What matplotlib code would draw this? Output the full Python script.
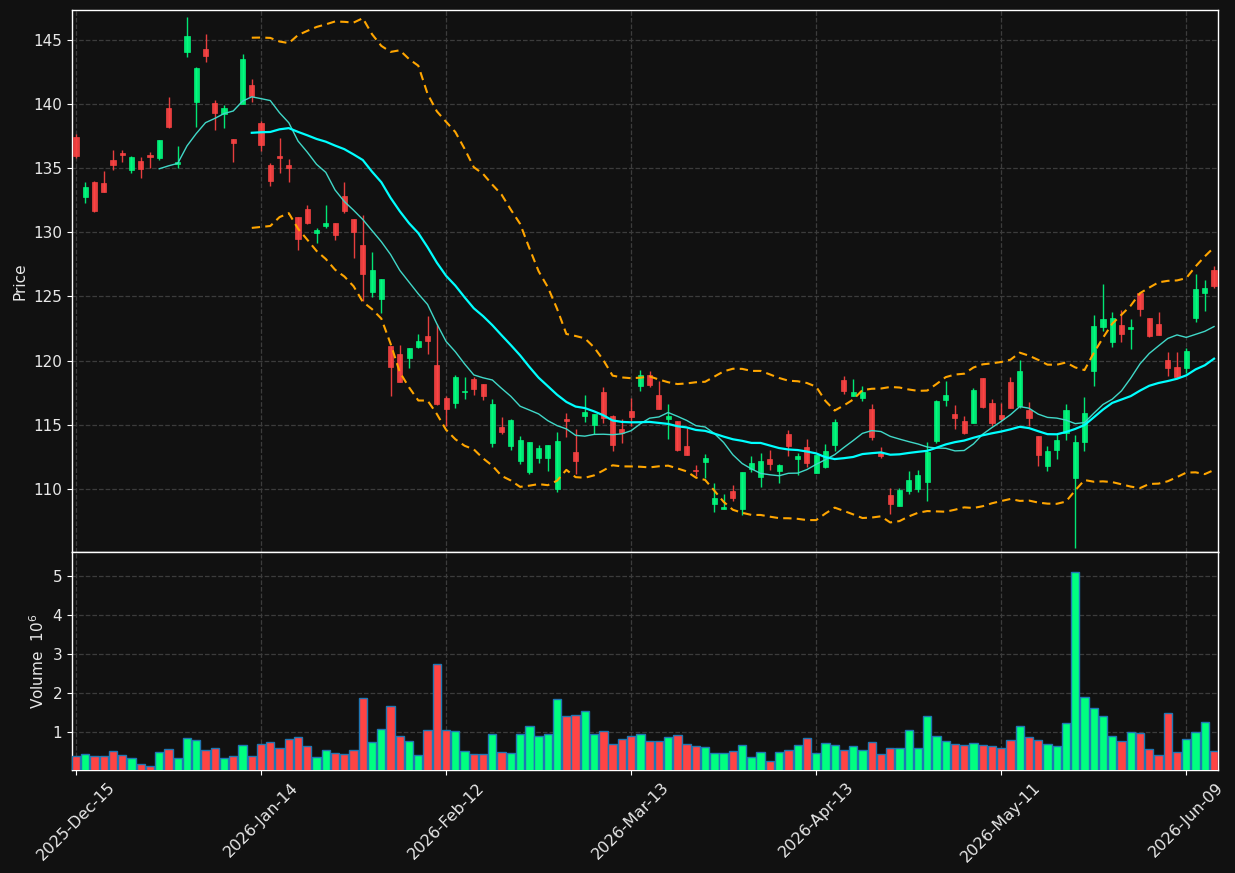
import numpy as np
import pandas as pd
import matplotlib
matplotlib.use("Agg")
import matplotlib.pyplot as plt

# ---------------- data ----------------
holidays = ["2025-12-25", "2026-01-01", "2026-01-19", "2026-02-16", "2026-04-03", "2026-05-25"]
dates = pd.bdate_range("2025-12-15", periods=124, freq="C", holidays=holidays)

opens = [137.41, 132.77, 133.91, 133.83, 135.62, 136.17, 134.87, 135.54, 136.01, 135.80,
         139.66, 135.28, 144.04, 140.16, 144.25, 140.05, 139.17, 137.25, 140.00, 141.45,
         138.47, 135.27, 135.90, 135.27, 131.22, 131.77, 129.92, 130.52, 130.68, 132.78,
         130.99, 129.04, 125.32, 124.78, 121.17, 120.55, 120.18, 121.09, 121.88, 119.63,
         117.08, 116.72, 117.55, 118.55, 118.17, 113.62, 114.83, 113.38, 112.20, 111.34,
         112.38, 112.38, 110.00, 115.45, 112.89, 115.71, 115.01, 117.55, 115.70, 114.66,
         116.06, 118.03, 118.86, 117.31, 115.44, 115.28, 113.34, 111.50, 112.10, 108.86,
         108.45, 109.84, 108.45, 111.55, 110.96, 112.33, 111.40, 114.27, 112.36, 113.24,
         111.27, 111.71, 113.45, 118.47, 117.23, 117.07, 116.22, 112.77, 109.53, 108.68,
         109.84, 110.00, 110.57, 113.76, 116.92, 115.83, 115.31, 115.16, 118.63, 116.68,
         115.73, 118.34, 116.45, 116.17, 114.17, 111.81, 113.08, 114.40, 110.88, 113.63,
         119.22, 122.64, 121.48, 122.75, 122.49, 125.26, 123.29, 122.85, 120.03, 119.48,
         119.43, 123.34, 125.28, 127.02]
highs = [137.62, 133.89, 133.99, 134.74, 136.37, 136.37, 135.93, 135.85, 136.24, 137.18,
         140.49, 136.68, 146.74, 142.90, 145.47, 140.26, 139.90, 137.25, 143.91, 141.89,
         138.65, 135.40, 137.35, 135.66, 131.22, 132.13, 130.29, 132.13, 130.73, 133.87,
         130.99, 131.35, 128.42, 126.39, 121.17, 121.22, 121.01, 122.08, 123.50, 122.85,
         117.21, 118.91, 118.76, 118.73, 118.17, 116.98, 115.61, 115.48, 114.13, 113.67,
         113.44, 113.44, 114.42, 115.89, 114.65, 117.29, 115.84, 117.96, 115.80, 115.44,
         117.12, 119.25, 119.20, 118.42, 116.66, 115.28, 114.79, 111.84, 112.72, 110.44,
         109.59, 110.31, 111.32, 112.56, 112.77, 113.01, 111.94, 114.59, 112.82, 113.86,
         112.69, 113.52, 115.49, 118.81, 118.55, 118.00, 116.61, 113.29, 110.08, 110.08,
         111.40, 111.48, 113.65, 116.92, 118.45, 116.53, 115.67, 117.85, 118.63, 117.02,
         116.68, 118.76, 120.03, 116.81, 114.17, 113.32, 114.30, 116.61, 114.20, 117.15,
         123.52, 125.93, 123.78, 123.96, 123.21, 125.26, 123.29, 123.76, 120.65, 120.65,
         121.01, 126.76, 126.24, 127.36]
lows = [135.78, 132.31, 131.58, 133.16, 134.87, 135.49, 134.59, 134.20, 135.03, 135.60,
        138.13, 134.97, 143.65, 138.19, 143.29, 137.93, 138.08, 135.47, 140.00, 140.13,
        136.36, 133.61, 134.62, 133.92, 128.62, 130.62, 129.17, 130.34, 129.40, 131.51,
        128.00, 124.62, 124.99, 123.71, 117.25, 118.31, 119.43, 120.96, 120.53, 116.51,
        114.91, 116.28, 116.98, 117.34, 116.95, 113.26, 114.32, 113.07, 111.96, 111.21,
        112.02, 111.37, 109.74, 114.08, 111.14, 115.19, 114.32, 115.17, 113.00, 113.60,
        114.90, 117.64, 117.95, 116.22, 113.91, 112.95, 112.64, 110.98, 110.85, 108.19,
        108.45, 109.04, 108.01, 111.32, 110.18, 111.45, 110.44, 112.59, 111.09, 111.74,
        111.27, 111.63, 112.95, 117.44, 117.23, 116.87, 113.83, 112.38, 108.08, 108.68,
        109.61, 109.77, 109.09, 113.60, 116.48, 114.69, 114.30, 115.16, 116.32, 114.92,
        115.30, 116.32, 116.30, 114.90, 111.79, 111.40, 112.33, 113.81, 105.41, 113.00,
        118.00, 122.30, 121.04, 121.48, 120.88, 123.45, 121.81, 122.02, 118.78, 118.63,
        119.02, 123.03, 123.86, 125.67]
closes = [135.93, 133.52, 131.66, 133.16, 135.26, 136.01, 135.85, 134.95, 135.85, 137.18,
          138.21, 135.47, 145.26, 142.77, 143.73, 139.30, 139.64, 136.97, 143.47, 140.60,
          136.78, 133.97, 135.77, 134.99, 129.45, 130.68, 130.18, 130.68, 129.77, 131.64,
          130.00, 126.73, 127.09, 126.39, 119.48, 118.31, 121.01, 121.56, 121.52, 116.62,
          116.25, 118.71, 117.60, 117.80, 117.26, 116.61, 114.47, 115.37, 113.82, 113.67,
          113.20, 113.44, 113.75, 115.27, 112.22, 115.99, 115.84, 115.50, 113.44, 114.38,
          115.60, 118.86, 118.11, 116.22, 115.67, 113.03, 112.64, 111.42, 112.41, 109.30,
          108.60, 109.30, 111.32, 112.02, 112.18, 111.94, 111.87, 113.34, 112.56, 112.05,
          112.69, 112.93, 115.21, 117.64, 117.54, 117.54, 114.04, 112.59, 108.83, 109.92,
          110.70, 111.09, 112.88, 116.84, 117.31, 115.52, 114.35, 117.69, 116.40, 115.13,
          115.47, 116.32, 119.20, 115.57, 112.69, 112.98, 113.81, 116.14, 113.65, 115.93,
          122.69, 123.21, 123.29, 122.10, 122.62, 124.04, 121.92, 122.02, 119.43, 118.70,
          120.75, 125.57, 125.65, 125.83]
volumes = [0.385, 0.436, 0.385, 0.385, 0.513, 0.410, 0.333, 0.180, 0.128, 0.487,
           0.564, 0.333, 0.846, 0.795, 0.538, 0.590, 0.333, 0.385, 0.667, 0.385,
           0.692, 0.744, 0.590, 0.820, 0.872, 0.641, 0.359, 0.538, 0.462, 0.436,
           0.538, 1.872, 0.744, 1.077, 1.667, 0.897, 0.769, 0.410, 1.050, 2.744,
           1.050, 1.026, 0.513, 0.436, 0.436, 0.949, 0.487, 0.462, 0.949, 1.154,
           0.897, 0.949, 1.846, 1.410, 1.436, 1.538, 0.949, 1.026, 0.692, 0.820,
           0.897, 0.949, 0.769, 0.769, 0.872, 0.923, 0.692, 0.641, 0.615, 0.462,
           0.462, 0.513, 0.667, 0.359, 0.487, 0.256, 0.487, 0.538, 0.667, 0.846,
           0.462, 0.718, 0.667, 0.538, 0.641, 0.538, 0.744, 0.436, 0.590, 0.590,
           1.050, 0.590, 1.410, 0.897, 0.769, 0.692, 0.667, 0.718, 0.667, 0.641,
           0.590, 0.795, 1.154, 0.872, 0.795, 0.692, 0.641, 1.231, 5.077, 1.897,
           1.615, 1.410, 0.897, 0.769, 1.000, 0.974, 0.564, 0.410, 1.487, 0.487,
           0.820, 1.000, 1.256, 0.513]

# ---------------- style ----------------
BG = "#111111"
UP = "#00ff80"
DOWN = "#ff4444"
GRID = "#3c3c3c"
FG = "white"
TXT = "#e8e8e8"

o = np.array(opens); h = np.array(highs); l = np.array(lows); c = np.array(closes)
v = np.array(volumes)
x = np.arange(len(c))
is_up = c >= o
cols = np.where(is_up, UP, DOWN)

cs = pd.Series(c)
ma10 = cs.rolling(10).mean()
ma20 = cs.rolling(20).mean()
sd20 = cs.rolling(20).std(ddof=0)
bb_up = ma20 + 2 * sd20
bb_lo = ma20 - 2 * sd20

fig = plt.figure(figsize=(12.35, 8.73), dpi=100, facecolor=BG)
ax1 = fig.add_axes([72 / 1235, 1 - 552 / 873, 1146 / 1235, 542 / 873])
ax2 = fig.add_axes([72 / 1235, 1 - 770 / 873, 1146 / 1235, 218 / 873], sharex=ax1)

for ax in (ax1, ax2):
    ax.set_facecolor(BG)
    for s in ax.spines.values():
        s.set_color(FG)
        s.set_linewidth(1.0)
    ax.tick_params(colors=FG, labelcolor=TXT, labelsize=11)
    ax.grid(True, color=GRID, linestyle="--", linewidth=0.9)
    ax.set_axisbelow(True)

# candles
ax1.vlines(x, l, h, colors=cols, linewidth=1.0, alpha=0.9, zorder=3)
body = np.abs(c - o)
body = np.where(body < 0.05, 0.05, body)
ax1.bar(x, body, bottom=np.minimum(o, c), width=0.55, color=cols,
        edgecolor=cols, linewidth=0.5, alpha=0.9, zorder=4)

# moving averages & bands
ax1.plot(x, ma10, color="#40d8c8", linewidth=1.0, zorder=5)
ax1.plot(x, ma20, color="#00ffff", linewidth=1.6, zorder=5)
ax1.plot(x, bb_up, color="#ffa500", linewidth=1.5, linestyle=(0, (4, 2.5)), zorder=5)
ax1.plot(x, bb_lo, color="#ffa500", linewidth=1.5, linestyle=(0, (4, 2.5)), zorder=5)

ax1.set_ylim(105.1, 147.3)
ax1.set_yticks([110, 115, 120, 125, 130, 135, 140, 145])
ax1.set_ylabel("Price", color=TXT, fontsize=11)
ax1.tick_params(axis="x", labelbottom=False)

# volume
ax2.bar(x, v, width=0.9, color=cols, edgecolor="#1f77b4", linewidth=1.0, zorder=3)
ax2.set_ylim(0.035, 5.6)
ax2.set_yticks([1, 2, 3, 4, 5])
ax2.set_ylabel("Volume  $10^{6}$", color=TXT, fontsize=11)

ax1.set_xlim(-0.43, len(c) - 1 + 0.43)
ticks = list(range(0, len(c), 20))
ax2.set_xticks(ticks)
ax2.set_xticklabels([dates[t].strftime("%Y-%b-%d") for t in ticks],
                    rotation=45, ha="center", color=TXT, fontsize=11.5)

fig.savefig("out.png", dpi=100, facecolor=BG)
